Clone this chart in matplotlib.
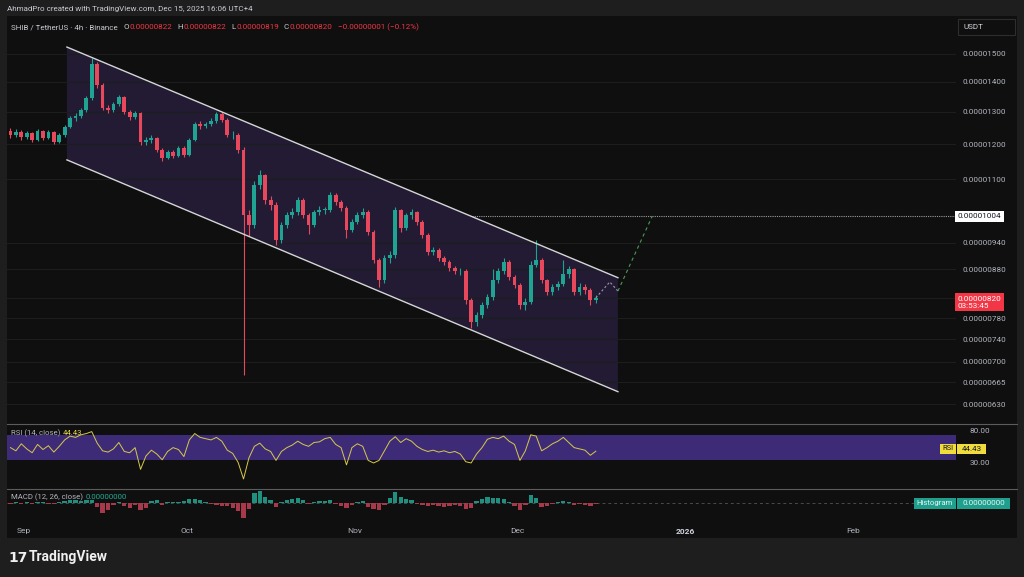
import numpy as np
import pandas as pd
import matplotlib
matplotlib.use("Agg")
import matplotlib.pyplot as plt
import matplotlib.dates as mdates
import matplotlib.transforms as mtransforms
from matplotlib.patches import Rectangle
from matplotlib.ticker import NullLocator

plt.rcParams['font.family'] = ['Roboto', 'DejaVu Sans']

# ---- data (prices in units of 1e-8 USDT, one value per day) ----
first_day = '2025-08-29'
first_open = 1240
closes = [1227, 1237, 1221, 1234, 1212, 1240, 1218, 1237, 1206, 1227,
          1252, 1280, 1287, 1306, 1345, 1463, 1389, 1312, 1306, 1325,
          1349, 1299, 1283, 1296, 1206, 1212, 1218, 1184, 1160, 1178,
          1166, 1189, 1169, 1212, 1261, 1255, 1261, 1271, 1293, 1274,
          1227, 1227, 1184, 1007, 982, 1085, 1112, 1045, 1033, 947,
          982, 1007, 1015, 1045, 1007, 982, 1015, 1020, 1020, 1058,
          1040, 1025, 970, 990, 1007, 1015, 965, 901, 857, 905,
          912, 1020, 975, 1007, 1015, 990, 958, 919, 923, 905,
          896, 883, 876, 876, 816, 772, 786, 806, 821, 857,
          876, 896, 864, 847, 806, 812, 890, 901, 857, 831,
          842, 849, 869, 880, 831, 842, 836, 816, 820]
highs = [1250, 1245, 1242, 1240, 1238, 1246, 1244, 1243, 1240, 1233,
         1258, 1286, 1295, 1312, 1352, 1485, 1470, 1395, 1322, 1332,
         1356, 1352, 1305, 1304, 1300, 1222, 1228, 1222, 1188, 1184,
         1182, 1195, 1194, 1218, 1268, 1270, 1268, 1280, 1300, 1298,
         1280, 1240, 1232, 1190, 1020, 1095, 1125, 1115, 1055, 1040,
         990, 1015, 1025, 1052, 1050, 1012, 1020, 1030, 1028, 1065,
         1062, 1045, 1030, 998, 1015, 1025, 1020, 970, 905, 912,
         920, 1028, 1022, 1012, 1022, 1018, 995, 962, 930, 928,
         910, 900, 888, 884, 880, 820, 792, 812, 828, 880,
         882, 905, 900, 868, 850, 820, 898, 947, 905, 860,
         848, 856, 901, 888, 884, 850, 848, 840, 826]
lows = [1218, 1220, 1212, 1215, 1205, 1208, 1212, 1214, 1200, 1203,
        1222, 1248, 1272, 1280, 1300, 1340, 1380, 1305, 1296, 1300,
        1318, 1292, 1275, 1278, 1198, 1196, 1204, 1176, 1152, 1156,
        1160, 1162, 1162, 1166, 1208, 1246, 1250, 1255, 1265, 1268,
        1220, 1215, 1175, 678, 955, 975, 1075, 1035, 1020, 935,
        940, 975, 1000, 1008, 1000, 960, 978, 1008, 1010, 1015,
        1032, 1018, 950, 965, 985, 1000, 958, 895, 842, 850,
        895, 905, 965, 970, 998, 982, 950, 912, 912, 898,
        890, 876, 870, 868, 808, 761, 765, 780, 800, 815,
        850, 870, 858, 840, 798, 795, 808, 885, 850, 825,
        826, 836, 845, 862, 825, 826, 828, 805, 810]
rsi = [50, 45, 56, 48, 42, 55, 47, 53, 43, 52,
       62, 68, 66, 70, 72, 75, 57, 45, 43, 48,
       58, 44, 42, 50, 16, 37, 46, 40, 31, 44,
       50, 47, 36, 62, 72, 66, 64, 62, 66, 60,
       46, 41, 27, 1, 34, 52, 57, 48, 44, 30,
       44, 50, 54, 60, 55, 52, 58, 59, 64, 66,
       55, 50, 23, 50, 56, 52, 30, 26, 30, 45,
       60, 67, 58, 64, 60, 52, 47, 44, 46, 43,
       45, 42, 44, 40, 28, 26, 40, 50, 63, 66,
       64, 68, 60, 55, 30, 45, 70, 68, 45, 50,
       56, 60, 66, 58, 50, 48, 46, 38, 44.43]
macd_hist = [-1, 1, -1, 1, -1, 1, 0.5, -1, -1, 1,
             2, 2.5, 3, 2, 3, 3, -4, -10, -7, -2,
             1, -3, -5, -2, -7, -5, 2, 3, -2, 1,
             1, 0.5, 2, 4, 4, 3, 1, -1, -2, -3,
             -3, -5, -8, -15, -6, 10, 12, 6, 3, -4,
             1, 3, 4, 5, 3, -1, 1, 2, 2, 3,
             -1, -3, -5, -2, 1, 2, -4, -6, -7, -2,
             5, 11, 6, 4, 3, -1, -2, -3, -2, -3,
             -4, -3, -2, -3, -6, -5, 2, 4, 6, 5,
             5, 4, 1, -3, -7, -2, 8, 5, -4, -3,
             -1, 1, 2, 1, -2, -1, -2, -3, -1]

price_ticks = [1500, 1400, 1300, 1200, 1100, 940, 880, 820, 780, 740, 700, 665, 630]
price_tick_labels = ['0.00001500', '0.00001400', '0.00001300', '0.00001200', '0.00001100',
                     '0.00000940', '0.00000880', '', '0.00000780', '0.00000740',
                     '0.00000700', '0.00000665', '0.00000630']
month_ticks = ['2025-09-01', '2025-10-01', '2025-11-01', '2025-12-01', '2026-01-01', '2026-02-01']
month_labels = ['Sep', 'Oct', 'Nov', 'Dec', '2026', 'Feb']

# drawings (date, price e-8)
channel_x = ['2025-09-08 22:00', '2025-12-19 14:00']
channel_upper = [1526, 862]
channel_lower = [1154, 650]
target_price = 1004
target_from = '2025-11-22 17:00'
path_x = ['2025-12-15 12:00', '2025-12-18 02:00', '2025-12-19 14:00']
path_y = [820, 853, 834]
arrow_x = ['2025-12-19 14:00', '2025-12-25 22:00']
arrow_y = [834, 1004]
last_price = 820

# ---- layout helpers ----
W, H = 1024, 577
BG = '#1e1e1e'
PANE = '#0f0f0f'
TXT = '#b2b5be'
UP = '#1fa393'
DOWN = '#e8485c'


def rect(x0, y0, x1, y1):
    return [x0 / W, 1 - y1 / H, (x1 - x0) / W, (y1 - y0) / H]


def fx(x):
    return x / W


def fy(y):
    return 1 - y / H


fig = plt.figure(figsize=(W / 100, H / 100), dpi=100, facecolor=BG)
fig.patches.append(Rectangle((fx(7), fy(538)), (1017 - 7) / W, (538 - 16) / H,
                             transform=fig.transFigure, facecolor=PANE, edgecolor='none', zorder=-5))

ax = fig.add_axes(rect(7, 16, 956, 422))
ax_rsi = fig.add_axes(rect(7, 424, 956, 488), sharex=ax)
ax_macd = fig.add_axes(rect(7, 489, 956, 518), sharex=ax)
for a in (ax, ax_rsi, ax_macd):
    a.set_facecolor(PANE)
    for s in a.spines.values():
        s.set_visible(False)
    a.tick_params(length=0)

e8 = 1e-8
days = pd.date_range(first_day, periods=len(closes), freq='D') + pd.Timedelta(hours=12)
xd = mdates.date2num(days)
c = np.array(closes) * e8
o = np.concatenate([[first_open], closes[:-1]]) * e8
hi = np.array(highs) * e8
lo = np.array(lows) * e8
col = np.where(c >= o, UP, DOWN)

# channel
cx = mdates.date2num(pd.to_datetime(channel_x))
cu = np.array(channel_upper) * e8
cl = np.array(channel_lower) * e8
ax.fill([cx[0], cx[1], cx[1], cx[0]], [cu[0], cu[1], cl[1], cl[0]],
        facecolor='#5b3fa0', alpha=0.25, edgecolor='none', zorder=1)
ax.plot(cx, cu, color='#d6d6d6', lw=1.0, zorder=4)
ax.plot(cx, cl, color='#d6d6d6', lw=1.0, zorder=4)

# candles
ax.vlines(xd, lo, hi, colors=col, lw=0.8, zorder=3)
ax.bar(xd, np.maximum(np.abs(c - o), 0.6 * e8), bottom=np.minimum(o, c), width=0.7,
       color=col, edgecolor='none', zorder=3)

# target line and projected path
ax.plot([mdates.date2num(pd.Timestamp(target_from)), mdates.date2num(pd.Timestamp('2026-02-20'))],
        [target_price * e8] * 2, color='#9a9ca3', lw=0.8, ls=(0, (1, 1)), zorder=2)
ax.plot(mdates.date2num(pd.to_datetime(path_x)), np.array(path_y) * e8,
        color='#9a9ca3', lw=0.8, ls=(0, (2, 2)), zorder=4)
ax.plot(mdates.date2num(pd.to_datetime(arrow_x)), np.array(arrow_y) * e8,
        color='#4c9a5a', lw=0.8, ls=(0, (3, 3)), zorder=4)

ax.set_yscale('log')
ax.set_ylim(603 * e8, 1648 * e8)
ax.set_xlim(mdates.date2num(pd.Timestamp('2025-08-28 20:40')),
            mdates.date2num(pd.Timestamp('2026-02-19 23:00')))
ax.yaxis.set_minor_locator(NullLocator())
ax.set_yticks(np.array(price_ticks) * e8)
ax.set_yticklabels(price_tick_labels)
ax.yaxis.tick_right()
ax.tick_params(axis='y', colors=TXT, labelsize=5.9, pad=5)
ax.grid(axis='y', color='#1d1d1d', lw=0.8)
ax.tick_params(axis='x', labelbottom=False)

# price labels on the axis
bt = mtransforms.blended_transform_factory(ax.transAxes, ax.transData)
ax.text(1.002, target_price * e8, '0.00001004', transform=bt, ha='left', va='center',
        fontsize=5.9, color='#131722', clip_on=False, zorder=10,
        bbox=dict(boxstyle='square,pad=0.3', fc='white', ec='none'))
ax.text(1.002, last_price * e8,
        '0.00000820\n03:53:45', transform=mtransforms.offset_copy(bt, fig, y=-4.5, units='dots'),
        ha='left', va='center', fontsize=5.9, color='white', linespacing=1.2,
        clip_on=False, zorder=10,
        bbox=dict(boxstyle='square,pad=0.3', fc='#f23645', ec='none'))

# RSI pane
ax_rsi.axhspan(30, 70, color='#3d2b78', lw=0, zorder=1)
ax_rsi.plot(xd, rsi, color='#d8c94a', lw=0.7, zorder=3)
ax_rsi.set_ylim(-13.1, 86.9)
ax_rsi.set_yticks([80, 30])
ax_rsi.set_yticklabels(['80.00', '30.00'])
ax_rsi.yaxis.tick_right()
ax_rsi.tick_params(axis='y', colors=TXT, labelsize=5.9, pad=10)
for t in ax_rsi.get_yticklabels():
    t.set_transform(t.get_transform() + mtransforms.ScaledTranslation(0, -2.5 / 100, fig.dpi_scale_trans))
ax_rsi.tick_params(axis='x', labelbottom=False)

# MACD pane
hist = np.array(macd_hist, dtype=float)
hcol = np.where(hist >= 0, '#1f8f80', '#a8394a')
ax_macd.bar(xd, hist, width=0.8, color=hcol, edgecolor='none', zorder=3)
ax_macd.axhline(0, color='#4a4a4a', lw=0.7, ls=(0, (3, 3)), zorder=2)
ax_macd.set_ylim(-15.3, 13.7)
ax_macd.set_yticks([])
ax_macd.set_xticks(mdates.date2num(pd.to_datetime(month_ticks)))
ax_macd.set_xticklabels(month_labels)
ax_macd.tick_params(axis='x', colors=TXT, labelsize=6, pad=7.5)
for t in ax_macd.get_xticklabels():
    if t.get_text() == '2026':
        t.set_fontweight('bold')
        t.set_color('#d1d4dc')

# separators
for yy in (423.5, 488.5):
    fig.add_artist(plt.Line2D([fx(7), fx(1017)], [fy(yy), fy(yy)], color='#5c5c5c', lw=0.8))

# ---- text rows ----
renderer = fig.canvas.get_renderer()


def row(x, y, parts, size, weight='normal'):
    for s, colr, gap in parts:
        t = fig.text(fx(x), fy(y), s, color=colr, fontsize=size, ha='left', va='center',
                     fontweight=weight, zorder=20)
        x += t.get_window_extent(renderer=renderer).width + gap
    return x


RED = '#f23645'
row(7, 9, [('AhmadPro created with TradingView.com, Dec 15, 2025 16:06 UTC+4', '#c8cad0', 0)], 5.75)
row(11, 27, [('SHIB / TetherUS · 4h · Binance', '#c8cad0', 6),
             ('O', '#c8cad0', 0.5), ('0.00000822', RED, 5),
             ('H', '#c8cad0', 0.5), ('0.00000822', RED, 5),
             ('L', '#c8cad0', 0.5), ('0.00000819', RED, 5),
             ('C', '#c8cad0', 0.5), ('0.00000820', RED, 5),
             ('−0.00000001 (−0.12%)', RED, 0)], 5.8)
row(11, 433, [('RSI (14, close)', TXT, 2), ('44.43', '#e8d84a', 0)], 5.6)
row(11, 497, [('MACD (12, 26, close)', TXT, 3), ('0.00000000', '#22ab94', 0)], 5.6)

# USDT box
fig.add_artist(Rectangle((fx(958), fy(35)), 57 / W, 16 / H, transform=fig.transFigure,
                         facecolor=PANE, edgecolor='#2e2e2e', lw=0.8))
fig.text(fx(963), fy(27), 'USDT', color='#d1d4dc', fontsize=5.8, ha='left', va='center')

# RSI value tags
fig.add_artist(Rectangle((fx(940), fy(454)), 16 / W, 10 / H, transform=fig.transFigure,
                         facecolor='#f0dc3c', edgecolor='none'))
fig.text(fx(948), fy(449), 'RSI', color='#131722', fontsize=5.4, ha='center', va='center')
fig.add_artist(Rectangle((fx(957), fy(454)), 29 / W, 10 / H, transform=fig.transFigure,
                         facecolor='#f0dc3c', edgecolor='none'))
fig.text(fx(971.5), fy(449), '44.43', color='#131722', fontsize=5.8, ha='center', va='center')

# Histogram tags
fig.add_artist(Rectangle((fx(914), fy(508.5)), 42 / W, 10.5 / H, transform=fig.transFigure,
                         facecolor='#1fa08f', edgecolor='none'))
fig.text(fx(935), fy(503), 'Histogram', color='#e8f5f2', fontsize=5.6, ha='center', va='center')
fig.add_artist(Rectangle((fx(957), fy(508.5)), 53 / W, 10.5 / H, transform=fig.transFigure,
                         facecolor='#1fa08f', edgecolor='none'))
fig.text(fx(983.5), fy(503), '0.00000000', color='#e8f5f2', fontsize=5.8, ha='center', va='center')

# footer logo
fig.text(fx(8), fy(557.5), '17', color='#f0f0f0', fontsize=10, fontweight='heavy',
         family='DejaVu Sans', ha='left', va='center')
fig.text(fx(29), fy(557.5), 'TradingView', color='#f0f0f0', fontsize=10, fontweight='bold',
         ha='left', va='center')

fig.savefig('out.png', dpi=100, facecolor=BG)
